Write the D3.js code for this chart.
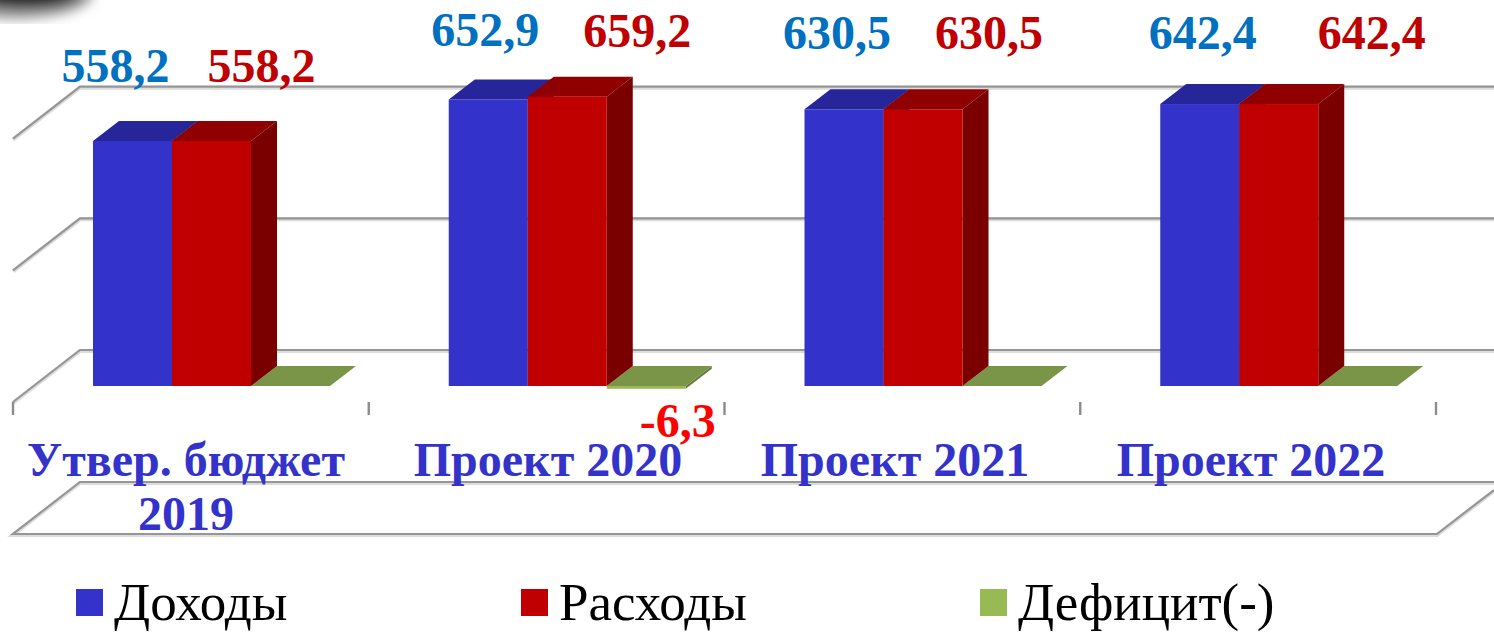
<!DOCTYPE html>
<html>
<head>
<meta charset="utf-8">
<script src="https://cdn.jsdelivr.net/npm/d3@7"></script>
<style>
  html, body { margin: 0; padding: 0; background: #fff; overflow: hidden; }
  text { font-family: "Liberation Serif", serif; }
</style>
</head>
<body>
<svg id="chart" width="1494" height="632"></svg>
<script>
const categories = [["Утвер. бюджет", "2019"], ["Проект 2020"], ["Проект 2021"], ["Проект 2022"]];
const seriesNames = ["Доходы", "Расходы", "Дефицит(-)"];
const income = [558.2, 652.9, 630.5, 642.4];
const spending = [558.2, 659.2, 630.5, 642.4];
const deficit = [0, -6.3, 0, 0];
const incomeLabels = ["558,2", "652,9", "630,5", "642,4"];
const spendingLabels = ["558,2", "659,2", "630,5", "642,4"];
const deficitLabels = ["", "-6,3", "", ""];
const gridTicks = [0, 300, 600];

const svg = d3.select("svg#chart");

const x = d3.scaleBand().domain(d3.range(4)).range([13, 1436]);
const inner = d3.scaleBand().domain(d3.range(3)).range([80, 317]);
const y = d3.scaleLinear().domain([0, 558.2]).range([386, 141]);

const depthX = 26, depthY = 20;       // depth of a bar
const wallX = 67, wallY = 52;         // depth of the floor
const wallOffset = 16;                // front floor edge sits below the zero line

const faces = [
  { front: "#3333cc", top: "#26269a", side: "#1c1c73" },
  { front: "#c00000", top: "#900000", side: "#7a0000" },
  { front: "#98b954", top: "#7a9448", side: "#667c3c" }
];

// the labels were placed by hand in the original, these are their shifts from the bar
const incomeShift = [[-17, -59], [-3, -53], [-7, -60], [3, -55]];
const spendingShift = [[50, -59], [70, -50], [66, -60], [93, -55]];

// grey photo corner at the top left
const defs = svg.append("defs");
defs.append("filter").attr("id", "blur").append("feGaussianBlur").attr("stdDeviation", 6);
const photo = svg.append("g").attr("filter", "url(#blur)");
photo.append("ellipse").attr("cx", 15).attr("cy", -6).attr("rx", 78).attr("ry", 25).attr("fill", "#999");
photo.append("ellipse").attr("cx", 25).attr("cy", -6).attr("rx", 55).attr("ry", 14).attr("fill", "#222");

function wallLine(points) {
  let d = d3.line()(points);
  svg.append("path").attr("d", d).attr("fill", "none").attr("stroke", "#dcdcdc").attr("stroke-width", 4).attr("transform", "translate(0,1)");
  svg.append("path").attr("d", d).attr("fill", "none").attr("stroke", "#969696").attr("stroke-width", 2.2);
}

// grid lines on the back wall and side wall
gridTicks.forEach(function (t) {
  let front = y(t) + wallOffset;
  wallLine([[13, front], [13 + wallX, front - wallY], [1494, front - wallY]]);
});

// axis ticks under the floor
const axisY = y(0) + wallOffset;
d3.range(5).forEach(function (i) {
  let tx = i < 4 ? x(i) : x(3) + x.bandwidth();
  svg.append("line").attr("x1", tx).attr("x2", tx).attr("y1", axisY).attr("y2", axisY + 13)
    .attr("stroke", "#8c8c8c").attr("stroke-width", 2.4);
});

// the flat plate under the category labels
wallLine([[1494, 482], [80, 482], [13, 534], [1437, 534], [1494, 490]]);

function drawBar(cat, s, value) {
  let x0 = x(cat) + inner(s);
  let x1 = x0 + inner.bandwidth();
  let yTop = Math.min(y(value), y(0));
  let yBottom = Math.max(y(value), y(0));
  let c = faces[s];
  let g = svg.append("g");
  g.append("path").attr("fill", c.side)
    .attr("d", d3.line()([[x1, yTop], [x1 + depthX, yTop - depthY], [x1 + depthX, yBottom - depthY], [x1, yBottom]]));
  g.append("path").attr("fill", c.top)
    .attr("d", d3.line()([[x0, yTop], [x0 + depthX, yTop - depthY], [x1 + depthX, yTop - depthY], [x1, yTop]]));
  g.append("rect").attr("x", x0).attr("y", yTop).attr("width", x1 - x0).attr("height", yBottom - yTop).attr("fill", c.front);
}

categories.forEach(function (d, i) {
  drawBar(i, 0, income[i]);
  drawBar(i, 2, deficit[i]);
  drawBar(i, 1, spending[i]);
});

// category labels
const catX = [186, 548, 895, 1251];
categories.forEach(function (lines, i) {
  lines.forEach(function (line, k) {
    svg.append("text").attr("x", catX[i]).attr("y", 476 + k * 54)
      .attr("text-anchor", "middle").attr("font-size", 48).attr("font-weight", "bold")
      .attr("fill", "#3333cc").text(line);
  });
});

// value labels
const labelSize = 48;
function valueLabels(values, labels, s, color, shift) {
  svg.append("g").selectAll("text").data(values).join("text")
    .attr("x", (d, i) => x(i) + inner(s) + inner.bandwidth() / 2 + shift[i][0])
    .attr("y", (d, i) => y(d) + shift[i][1])
    .attr("text-anchor", "middle")
    .attr("font-size", labelSize)
    .attr("font-weight", "bold")
    .attr("fill", color)
    .text((d, i) => labels[i]);
}
valueLabels(income, incomeLabels, 0, "#0070c0", incomeShift);
valueLabels(spending, spendingLabels, 1, "#c00000", spendingShift);

svg.append("g").selectAll("text").data(deficit).join("text")
  .attr("x", (d, i) => x(i) + inner(2) + inner.bandwidth() / 2 + 31.5)
  .attr("y", d => y(d) + 48)
  .attr("text-anchor", "middle")
  .attr("font-size", labelSize)
  .attr("font-weight", "bold")
  .attr("fill", "#ff0000")
  .text((d, i) => deficitLabels[i]);

// legend
const legendX = [76, 521, 980];
seriesNames.forEach(function (name, i) {
  svg.append("rect").attr("x", legendX[i]).attr("y", 589).attr("width", 27).attr("height", 27).attr("fill", faces[i].front);
  svg.append("text").attr("x", legendX[i] + 38).attr("y", 620).attr("font-size", 53).attr("fill", "#000").text(name);
});
</script>
</body>
</html>
